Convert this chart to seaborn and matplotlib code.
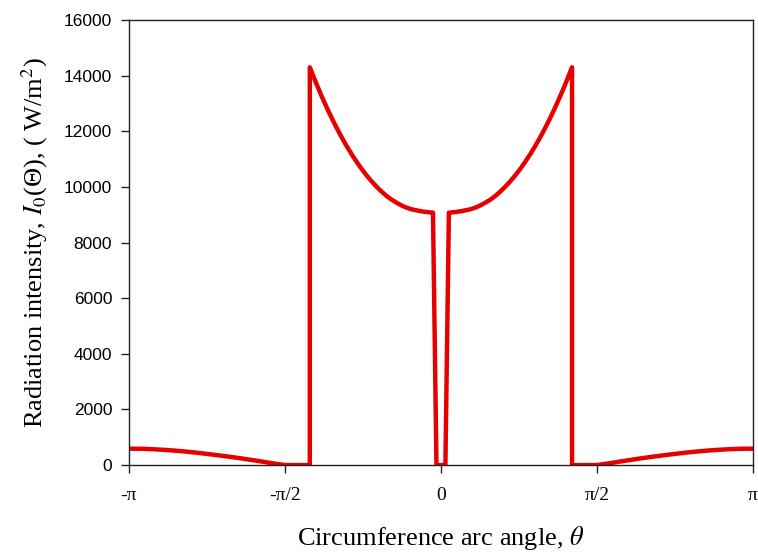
import numpy as np
import pandas as pd
import matplotlib
matplotlib.use("Agg")
import matplotlib.pyplot as plt
import seaborn as sns

# Radiation intensity on the tube circumference (left half, theta <= 0)
outer_theta = [-np.pi, -3.0, -2.9, -2.8, -2.7, -2.6, -2.5, -2.4, -2.3,
               -2.2, -2.1, -2.0, -1.9, -1.8, -1.7, -1.5708]
outer_val = [590, 585, 570, 550, 525, 495, 460, 420, 378,
             333, 285, 235, 180, 125, 66, 0]

shadow_theta = [-1.32]
shadow_val = [0]

arc_theta = [-1.32, -1.28, -1.24, -1.20, -1.15, -1.10, -1.05, -1.00, -0.95,
             -0.90, -0.85, -0.80, -0.75, -0.70, -0.65, -0.60, -0.55, -0.50,
             -0.45, -0.40, -0.35, -0.30, -0.25, -0.20, -0.15, -0.10, -0.08]
arc_val = [14300, 13940, 13590, 13255, 12856, 12479, 12124, 11789, 11474,
           11181, 10908, 10655, 10422, 10209, 10015, 9840, 9683, 9546,
           9440, 9340, 9260, 9200, 9160, 9125, 9100, 9080, 9075]

gap_theta = [-0.045]
gap_val = [0]

xtick_pos = [-np.pi, -np.pi / 2, 0, np.pi / 2, np.pi]
xtick_labels = ["-π", "-π/2", "0", "π/2", "π"]
ytick_pos = [0, 2000, 4000, 6000, 8000, 10000, 12000, 14000, 16000]

# Left half in order, right half mirrored (symmetric profile)
left_theta = outer_theta + shadow_theta + arc_theta + gap_theta
left_val = outer_val + shadow_val + arc_val + gap_val
theta = left_theta + [-t for t in reversed(left_theta)]
vals = left_val + list(reversed(left_val))
df = pd.DataFrame({"theta": theta, "I0": vals})

sns.set_style("ticks")
plt.rcParams["mathtext.fontset"] = "stix"

fig = plt.figure(figsize=(7.58, 5.53), dpi=100)
ax = fig.add_axes([0.170, 0.159, 0.8234, 0.8048])

sns.lineplot(data=df, x="theta", y="I0", sort=False, estimator=None,
             color="#e60000", linewidth=3.2, ax=ax)

ax.set_xlim(-np.pi, np.pi)
ax.set_ylim(0, 16000)
ax.set_xticks(xtick_pos)
ax.set_xticklabels(xtick_labels, fontfamily="Liberation Serif", fontsize=14, color="black")
ax.set_yticks(ytick_pos)
ax.set_yticklabels([str(v) for v in ytick_pos], fontfamily="Liberation Sans",
                   fontsize=12.5, color="black")

for s in ax.spines.values():
    s.set_visible(True)
    s.set_color("#222222")
    s.set_linewidth(1.0)
ax.tick_params(direction="out", length=6, width=1.0, color="#222222", pad=6)
ax.tick_params(axis="x", pad=10)

ax.set_xlabel(r"Circumference arc angle, $\theta$", fontfamily="Liberation Serif",
              fontsize=19, labelpad=14, color="black")
ax.set_ylabel(r"Radiation intensity, $I_0$(Θ), ( W/m$^2$)", fontfamily="Liberation Serif",
              fontsize=19, labelpad=10, color="black")

fig.savefig("out.png", dpi=100)
